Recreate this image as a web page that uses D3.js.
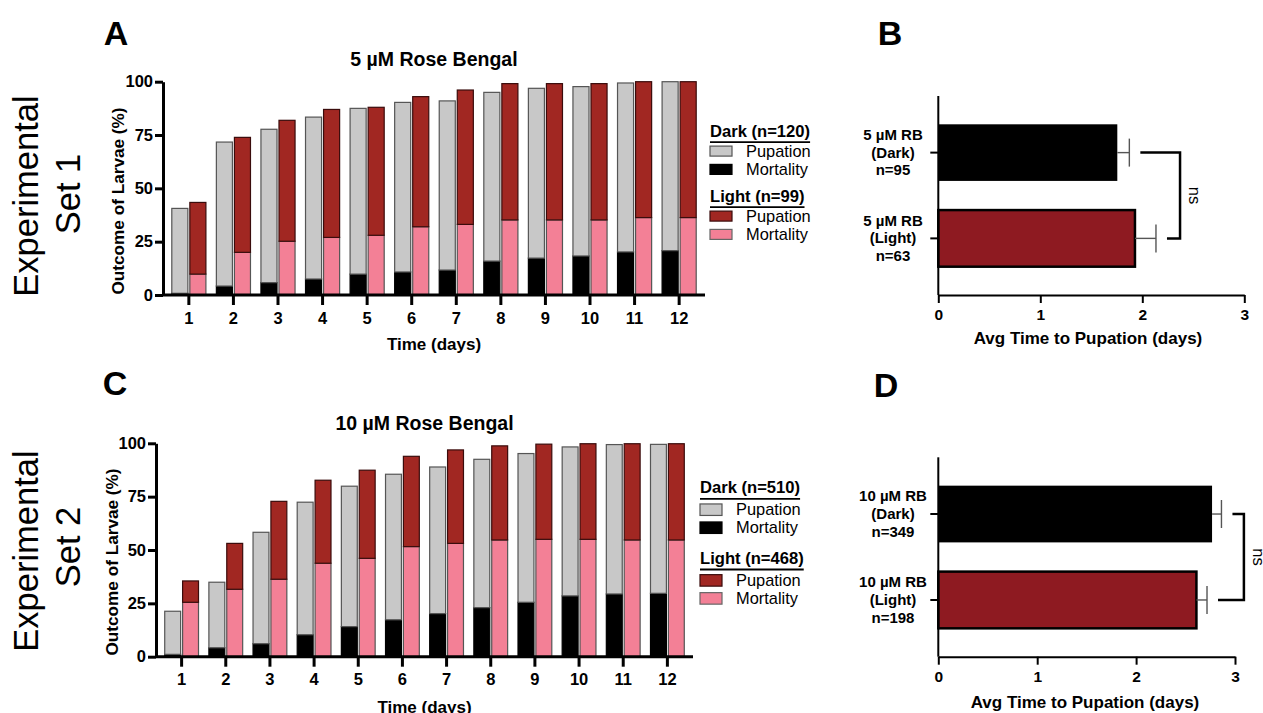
<!DOCTYPE html>
<html lang="en">
<head>
<meta charset="UTF-8">
<title>Rose Bengal larvae outcome</title>
<script src="https://d3js.org/d3.v7.min.js"></script>
<style>
  body, html { margin: 0; padding: 0; background: #fff; }
  svg { display: block; font-family: "Liberation Sans", Arial, sans-serif; }
  .bold { font-weight: bold; }
</style>
</head>
<body>
<svg width="1263" height="713"></svg>
<script>
// ---- data ----
const days = [1, 2, 3, 4, 5, 6, 7, 8, 9, 10, 11, 12];

// Set 1, 5 uM Rose Bengal (% of larvae)
const set1DarkMortality  = [0.8, 4.2, 5.8, 7.5, 9.8, 10.8, 11.7, 15.9, 17.3, 18.3, 20.2, 20.8];
const set1DarkPupation   = [39.8, 67.5, 71.9, 75.9, 77.7, 79.5, 79.3, 79.1, 79.6, 79.4, 79.2, 79.2];
const set1LightMortality = [9.8, 20.0, 25.2, 27.0, 28.0, 32.0, 33.1, 35.2, 35.2, 35.2, 36.3, 36.3];
const set1LightPupation  = [33.6, 53.9, 56.7, 60.0, 60.0, 61.0, 63.0, 63.9, 63.9, 63.9, 63.7, 63.7];

// Set 2, 10 uM Rose Bengal
const set2DarkMortality  = [1.1, 4.2, 6.1, 10.3, 14.1, 17.3, 20.2, 23.0, 25.5, 28.5, 29.4, 29.7];
const set2DarkPupation   = [20.2, 30.7, 52.2, 62.1, 65.8, 68.2, 68.7, 69.5, 69.7, 69.8, 70.0, 69.8];
const set2LightMortality = [25.5, 31.6, 36.3, 43.8, 46.1, 51.6, 53.1, 54.7, 55.0, 55.0, 54.7, 54.7];
const set2LightPupation  = [10.0, 21.5, 36.5, 38.9, 41.3, 42.3, 43.8, 44.1, 44.6, 44.8, 45.1, 45.1];

const yTicks = [0, 25, 50, 75, 100];

// avg time to pupation (days)
const set1AvgLabels = [["5 µM RB", "(Dark)", "n=95"], ["5 µM RB", "(Light)", "n=63"]];
const set1AvgMean = [1.755, 1.928];
const set1AvgErr  = [0.118, 0.206];
const set2AvgLabels = [["10 µM RB", "(Dark)", "n=349"], ["10 µM RB", "(Light)", "n=198"]];
const set2AvgMean = [2.768, 2.61];
const set2AvgErr  = [0.095, 0.107];
const avgTicks = [0, 1, 2, 3];

const colors = {
  darkPup: "#c8c8c8", darkMort: "#000000",
  lightPup: "#a12722", lightMort: "#f38096",
  avgLight: "#8e1a21"
};

const svg = d3.select("svg");

// ---- stacked time-course panel ----
function timeCourse(o) {
  const g = svg.append("g");
  const x = d3.scaleBand().domain(days).range([o.x0, o.x1]).paddingInner(0).paddingOuter(0.08);
  const xs = d3.scaleBand().domain(["dark", "light"]).range([0, x.bandwidth()])
    .paddingInner(0.11).paddingOuter(0.29);
  const y = d3.scaleLinear().domain([0, 100]).range([o.y0, o.y1]);

  const groups = [
    {key: "dark", mort: o.darkMort, pup: o.darkPup, cm: colors.darkMort, cp: colors.darkPup},
    {key: "light", mort: o.lightMort, pup: o.lightPup, cm: colors.lightMort, cp: colors.lightPup}
  ];
  groups.forEach(s => {
    const rows = days.map((d, i) => ({day: d, mortality: s.mort[i], pupation: s.pup[i]}));
    const stacked = d3.stack().keys(["mortality", "pupation"])(rows);
    stacked.forEach(layer => {
      const fill = layer.key === "mortality" ? s.cm : s.cp;
      g.append("g").selectAll("rect").data(layer).join("rect")
        .attr("x", d => x(d.data.day) + xs(s.key))
        .attr("width", xs.bandwidth())
        .attr("y", d => y(d[1]))
        .attr("height", d => y(d[0]) - y(d[1]))
        .attr("fill", fill)
        .attr("stroke", fill === "#000000" ? "#000" : (layer.key === "pupation" && s.key === "light" ? "#3a0c0c" : "#555"))
        .attr("stroke-width", 1.2);
    });
  });

  const ax = g.append("g").attr("transform", `translate(0,${o.y0})`)
    .call(d3.axisBottom(x).tickSize(10).tickPadding(7).tickSizeOuter(0));
  const ay = g.append("g").attr("transform", `translate(${o.x0},0)`)
    .call(d3.axisLeft(y).tickValues(yTicks).tickSize(8).tickPadding(2).tickSizeOuter(0));
  [ax, ay].forEach(a => {
    a.select(".domain").attr("stroke", "#000").attr("stroke-width", 3);
    a.selectAll(".tick line").attr("stroke", "#000").attr("stroke-width", 3);
    a.selectAll("text").attr("class", "bold").attr("font-size", 16.5).attr("fill", "#000")
      .style("font-family", "'Liberation Sans', Arial, sans-serif");
  });
  ax.select(".domain").attr("d", `M${o.x0},0H${o.x1}`);

  const cx = (o.x0 + o.x1) / 2;
  g.append("text").attr("class", "bold").attr("x", cx).attr("y", o.titleY)
    .attr("text-anchor", "middle").attr("font-size", 19.5).text(o.title);
  g.append("text").attr("class", "bold").attr("x", cx).attr("y", o.xLabelY)
    .attr("text-anchor", "middle").attr("font-size", 17).text("Time (days)");
  g.append("text").attr("class", "bold").attr("font-size", 17.2)
    .attr("transform", `translate(${o.yLabelX},${o.yLabelY}) rotate(-90)`)
    .attr("dy", "0.35em").attr("text-anchor", "middle").text("Outcome of Larvae (%)");

  // legend
  const lg = g.append("g").attr("transform", `translate(${o.legX},${o.legY})`);
  const items = [
    {head: o.darkHead, rows: [["Pupation", colors.darkPup, "#555"], ["Mortality", colors.darkMort, "#000"]]},
    {head: o.lightHead, rows: [["Pupation", colors.lightPup, "#3a0c0c"], ["Mortality", colors.lightMort, "#666"]]}
  ];
  items.forEach((it, k) => {
    const base = k * o.legBlock;
    const t = lg.append("text").attr("class", "bold").attr("font-size", 16.6)
      .attr("x", 0).attr("y", base).text(it.head);
    const w = t.node().getComputedTextLength();
    lg.append("line").attr("x1", 0).attr("x2", w).attr("y1", base + 5.5).attr("y2", base + 5.5)
      .attr("stroke", "#000").attr("stroke-width", 1.8);
    it.rows.forEach((r, j) => {
      const by = base + o.legRow0 + j * o.legRow;
      lg.append("rect").attr("x", 0).attr("y", by - 5.6 - o.swH / 2)
        .attr("width", 22).attr("height", o.swH)
        .attr("fill", r[1]).attr("stroke", r[2]).attr("stroke-width", 1.2);
      lg.append("text").attr("font-size", 16.4).attr("x", o.legTextX).attr("y", by).text(r[0]);
    });
  });

  g.append("text").attr("class", "bold").attr("font-size", 34)
    .attr("x", o.letterX).attr("y", o.letterY).attr("text-anchor", "middle").text(o.letter);

  const sg = g.append("g").attr("font-size", 34.5);
  sg.append("text").attr("transform", `translate(${o.setX1},${o.setY1}) rotate(-90)`)
    .attr("dy", "0.35em").attr("text-anchor", "middle").text("Experimental");
  sg.append("text").attr("transform", `translate(${o.setX2},${o.setY2}) rotate(-90)`)
    .attr("dy", "0.35em").attr("text-anchor", "middle").text(o.setName);
}

// ---- horizontal average panel ----
function avgPanel(o) {
  const g = svg.append("g");
  const idx = [0, 1];
  const x = d3.scaleLinear().domain([0, 3]).range([o.x0, o.x1]);
  const y = d3.scaleBand().domain(idx).range([o.y0, o.y1]).paddingInner(0.34).paddingOuter(0.33);
  const mid = i => y(i) + y.bandwidth() / 2;

  g.selectAll("rect.bar").data(idx).join("rect").attr("class", "bar")
    .attr("x", x(0)).attr("y", i => y(i))
    .attr("width", i => x(o.mean[i]) - x(0)).attr("height", y.bandwidth())
    .attr("fill", i => i === 0 ? "#000" : colors.avgLight)
    .attr("stroke", "#000").attr("stroke-width", i => i === 0 ? 0 : 2.5);

  const eb = g.selectAll("g.err").data(idx).join("g").attr("class", "err")
    .attr("stroke", "#555").attr("stroke-width", 1.4);
  eb.append("line").attr("x1", i => x(o.mean[i])).attr("x2", i => x(o.mean[i] + o.err[i]))
    .attr("y1", mid).attr("y2", mid);
  eb.append("line").attr("x1", i => x(o.mean[i] + o.err[i])).attr("x2", i => x(o.mean[i] + o.err[i]))
    .attr("y1", i => mid(i) - 14).attr("y2", i => mid(i) + 14);

  const ax = g.append("g").attr("transform", `translate(0,${o.y1})`)
    .call(d3.axisBottom(x).tickValues(avgTicks).tickFormat(d3.format("d")).tickSize(8).tickPadding(6).tickSizeOuter(0));
  const ay = g.append("g").attr("transform", `translate(${o.x0},0)`)
    .call(d3.axisLeft(y).tickSize(8).tickFormat("").tickSizeOuter(0));
  [ax, ay].forEach(a => {
    a.select(".domain").attr("stroke", "#000").attr("stroke-width", 2);
    a.selectAll(".tick line").attr("stroke", "#000").attr("stroke-width", 2);
  });
  ay.select(".domain").attr("d", `M0,${o.y0}V${o.y1}`);
  ax.selectAll("text").attr("class", "bold").attr("font-size", 15.5).attr("fill", "#000")
    .style("font-family", "'Liberation Sans', Arial, sans-serif");

  idx.forEach(i => {
    const t = g.append("text").attr("class", "bold").attr("font-size", 15).attr("text-anchor", "middle");
    o.labels[i].forEach((s, k) => {
      t.append("tspan").attr("x", o.labelX).attr("y", mid(i) + 5 + (k - 1) * 17.8).text(s);
    });
  });

  g.append("text").attr("class", "bold").attr("font-size", 17).attr("text-anchor", "middle")
    .attr("x", o.xLabelX).attr("y", o.xLabelY).text("Avg Time to Pupation (days)");

  // significance bracket
  const bx = x(o.bracketAt);
  const topStart = x(o.mean[0] + o.err[0]) + 11;
  const botStart = x(o.mean[1] + o.err[1]) + 11;
  g.append("path").attr("fill", "none").attr("stroke", "#000").attr("stroke-width", 2.5)
    .attr("d", `M${topStart},${mid(0)}H${bx}V${mid(1)}H${botStart}`);
  g.append("text").attr("font-size", 16.5)
    .attr("transform", `translate(${bx + 15},${(mid(0) + mid(1)) / 2}) rotate(90)`)
    .attr("dy", "0.35em").attr("text-anchor", "middle").text("ns");

  g.append("text").attr("class", "bold").attr("font-size", 34)
    .attr("x", o.letterX).attr("y", o.letterY).attr("text-anchor", "middle").text(o.letter);
}

timeCourse({
  x0: 163, x1: 705, y0: 295, y1: 81.7,
  darkMort: set1DarkMortality, darkPup: set1DarkPupation,
  lightMort: set1LightMortality, lightPup: set1LightPupation,
  title: "5 µM Rose Bengal", titleY: 66, xLabelY: 349.5,
  yLabelX: 118, yLabelY: 201,
  legX: 710, legY: 136.7, legBlock: 65, legRow0: 20, legRow: 18.3, legTextX: 36, swH: 10,
  darkHead: "Dark (n=120)", lightHead: "Light (n=99)",
  letter: "A", letterX: 116, letterY: 45,
  setX1: 26, setX2: 68, setY1: 196, setY2: 194, setName: "Set 1"
});

timeCourse({
  x0: 156, x1: 693, y0: 656.7, y1: 443.3,
  darkMort: set2DarkMortality, darkPup: set2DarkPupation,
  lightMort: set2LightMortality, lightPup: set2LightPupation,
  title: "10 µM Rose Bengal", titleY: 430, xLabelY: 712.5,
  yLabelX: 112, yLabelY: 562,
  legX: 700, legY: 493.3, legBlock: 70.7, legRow0: 22, legRow: 18, legTextX: 36, swH: 11.5,
  darkHead: "Dark (n=510)", lightHead: "Light (n=468)",
  letter: "C", letterX: 115, letterY: 395,
  setX1: 26, setX2: 68, setY1: 551, setY2: 547, setName: "Set 2"
});

avgPanel({
  x0: 938.3, x1: 1244.3, y0: 96, y1: 295,
  mean: set1AvgMean, err: set1AvgErr, labels: set1AvgLabels,
  labelX: 893, xLabelX: 1088, xLabelY: 344, bracketAt: 2.37,
  letter: "B", letterX: 890, letterY: 45
});

avgPanel({
  x0: 938.3, x1: 1235, y0: 457.3, y1: 656.7,
  mean: set2AvgMean, err: set2AvgErr, labels: set2AvgLabels,
  labelX: 893, xLabelX: 1085, xLabelY: 707.5, bracketAt: 3.09,
  letter: "D", letterX: 886, letterY: 397
});
</script>
</body>
</html>
